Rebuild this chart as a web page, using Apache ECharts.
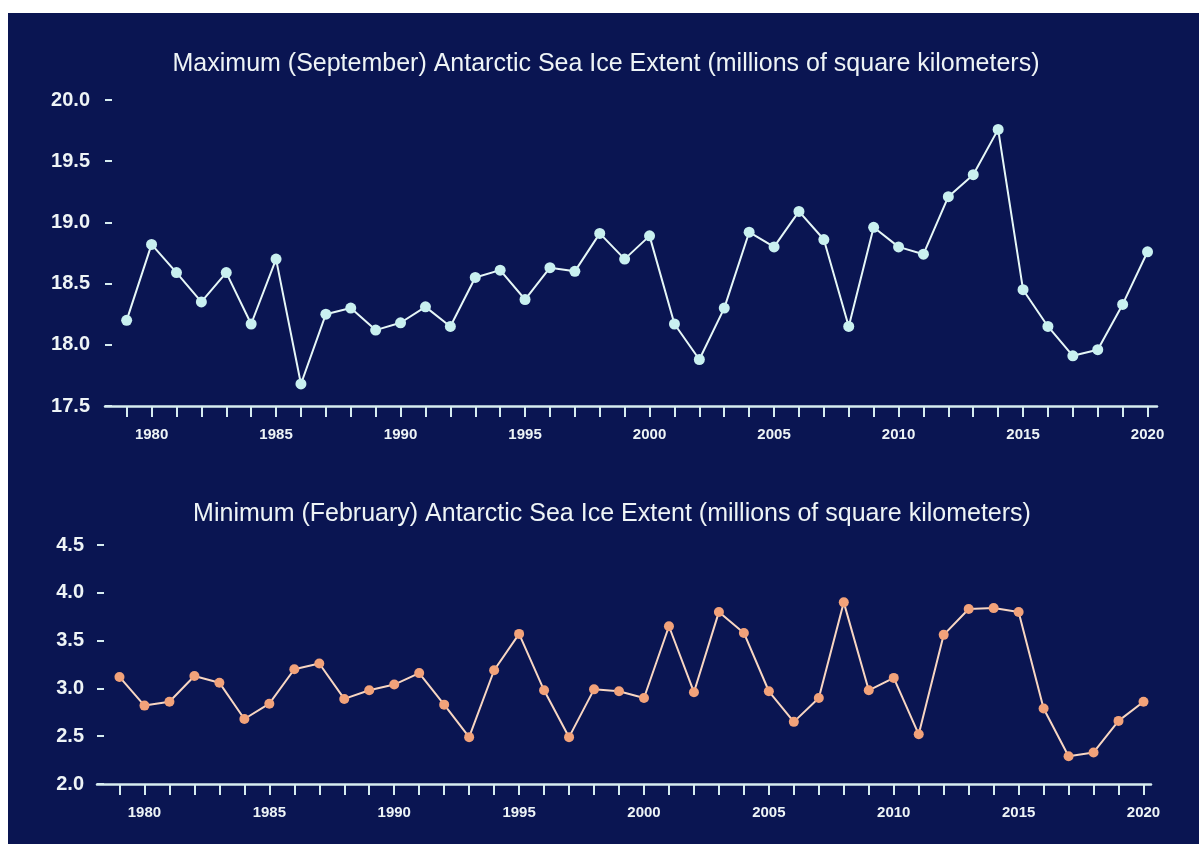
<!DOCTYPE html>
<html>
<head>
<meta charset="utf-8">
<script src="https://cdn.jsdelivr.net/npm/echarts@6/dist/echarts.min.js"></script>
<style>
  html, body { margin: 0; padding: 0; background: #ffffff; width: 1199px; height: 844px; overflow: hidden; }
  #chart { position: absolute; left: 8px; top: 13px; width: 1191px; height: 831px; background: #0a1552; }
</style>
</head>
<body>
<div id="chart"></div>
<script>
const years = [1979,1980,1981,1982,1983,1984,1985,1986,1987,1988,1989,1990,1991,1992,1993,1994,1995,1996,1997,1998,1999,2000,2001,2002,2003,2004,2005,2006,2007,2008,2009,2010,2011,2012,2013,2014,2015,2016,2017,2018,2019,2020];
const maxExtent = [18.20,18.82,18.59,18.35,18.59,18.17,18.70,17.68,18.25,18.30,18.12,18.18,18.31,18.15,18.55,18.61,18.37,18.63,18.60,18.91,18.70,18.89,18.17,17.88,18.30,18.92,18.80,19.09,18.86,18.15,18.96,18.80,18.74,19.21,19.39,19.76,18.45,18.15,17.91,17.96,18.33,18.76];
const minExtent = [3.12,2.82,2.86,3.13,3.06,2.68,2.84,3.20,3.26,2.89,2.98,3.04,3.16,2.83,2.49,3.19,3.57,2.98,2.49,2.99,2.97,2.90,3.65,2.96,3.80,3.58,2.97,2.65,2.90,3.90,2.98,3.11,2.52,3.56,3.83,3.84,3.80,2.79,2.29,2.33,2.66,2.86];
const yearLabels = [1980,1985,1990,1995,2000,2005,2010,2015,2020];
const titleMax = 'Maximum (September) Antarctic Sea Ice Extent (millions of square kilometers)';
const titleMin = 'Minimum (February) Antarctic Sea Ice Extent (millions of square kilometers)';

const axisColor = '#d6ecf0';
const textColor = '#eef4f6';
const fontFam = '"Liberation Sans", Arial, Helvetica, sans-serif';

function xAxisCfg(gridIndex, min, max) {
  return {
    type: 'value', gridIndex: gridIndex, min: min, max: max,
    axisLine: { show: true, lineStyle: { color: axisColor, width: 2.5 } },
    axisTick: { show: true, customValues: years, length: 11, lineStyle: { color: axisColor, width: 2 } },
    axisLabel: { show: true, customValues: yearLabels, color: textColor, fontSize: 15, fontWeight: 'bold', fontFamily: fontFam, margin: 21,
      formatter: v => String(Math.round(v)) },
    splitLine: { show: false }
  };
}
function yAxisCfg(gridIndex, min, max, margin) {
  return {
    type: 'value', gridIndex: gridIndex, min: min, max: max, interval: 0.5, offset: -7,
    axisLine: { show: false },
    axisTick: { show: true, length: 7, lineStyle: { color: axisColor, width: 2 } },
    axisLabel: { color: textColor, fontSize: 20, fontWeight: 'bold', fontFamily: fontFam, margin: margin,
      formatter: v => v.toFixed(1) },
    splitLine: { show: false }
  };
}

const chart = echarts.init(document.getElementById('chart'), null, { renderer: 'canvas' });
chart.setOption({
  backgroundColor: '#0a1552',
  animation: false,
  title: [
    { text: titleMax, left: 593, top: 46, textAlign: 'center', textVerticalAlign: 'middle',
      textStyle: { color: textColor, fontSize: 25, fontWeight: 'normal', fontFamily: fontFam } },
    { text: titleMin, left: 599, top: 496, textAlign: 'center', textVerticalAlign: 'middle',
      textStyle: { color: textColor, fontSize: 25, fontWeight: 'normal', fontFamily: fontFam } }
  ],
  grid: [
    { left: 97, top: 87, width: 1052, height: 306 },
    { left: 89, top: 532, width: 1054, height: 239 }
  ],
  xAxis: [ xAxisCfg(0, 1978.13, 2020.38), xAxisCfg(1, 1978.10, 2020.30) ],
  yAxis: [ yAxisCfg(0, 17.5, 20.0, 22), yAxisCfg(1, 2.0, 4.5, 20) ],
  series: [
    { type: 'line', xAxisIndex: 0, yAxisIndex: 0,
      data: years.map((y, i) => [y, maxExtent[i]]),
      symbol: 'circle', symbolSize: 11,
      lineStyle: { color: '#e6f7f7', width: 2 },
      itemStyle: { color: '#c9f0f0' } },
    { type: 'line', xAxisIndex: 1, yAxisIndex: 1,
      data: years.map((y, i) => [y, minExtent[i]]),
      symbol: 'circle', symbolSize: 10,
      lineStyle: { color: '#f8d6c2', width: 2 },
      itemStyle: { color: '#f2a27a' } }
  ]
});
</script>
</body>
</html>
